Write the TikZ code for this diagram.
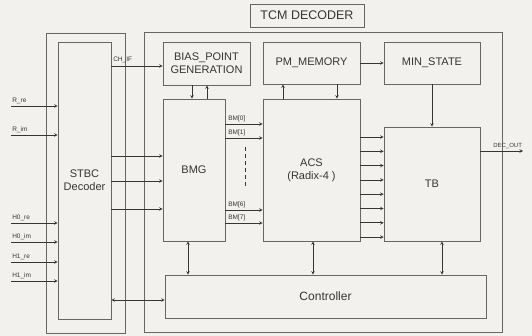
\documentclass[tikz,border=0pt]{standalone}
\usepackage{fontspec}
\setmainfont{Liberation Sans}
\usepackage{tikz}
\usetikzlibrary{positioning, arrows.meta}

\definecolor{paper}{HTML}{F2F1ED}
\definecolor{edge}{HTML}{666664}
\definecolor{ink}{HTML}{353535}

\begin{document}
\begin{tikzpicture}[x=1pt, y=-1pt, >=stealth, line width=0.6pt,
    blk/.style={draw=edge, fill=paper, rectangle, inner sep=0pt, text=ink,
      align=center, font=\fontsize{11}{13}\selectfont},
    sig/.style={text=ink, inner sep=1pt, font=\fontsize{6.5}{7}\selectfont},
    wire/.style={->, draw=ink}]
    \useasboundingbox[fill=paper] (0,0) rectangle (532,336);

    % frames
    \node[blk, minimum width=114pt, minimum height=23pt, font=\fontsize{12.5}{13}\selectfont] (title) at (307,15.5) {TCM DECODER};
    \node[blk, minimum width=79pt, minimum height=300pt] (left) at (85.5,183) {};
    \node[blk, minimum width=358pt, minimum height=300pt] (right) at (323,182) {};

    % blocks
    \node[blk, minimum width=53pt, minimum height=277pt] (stbc) at (84.5,180.5) {STBC\\Decoder};
    \node[blk, minimum width=87pt, minimum height=43pt] (bias) at (206.5,63.5) {BIAS\_POINT\\GENERATION};
    \node[blk, minimum width=97pt, minimum height=42pt] (pm) at (311.5,63) {PM\_MEMORY};
    \node[blk, minimum width=96pt, minimum height=42pt] (minst) at (432,63) {MIN\_STATE};
    \node[blk, minimum width=62pt, minimum height=142pt] (bmg) at (194,170) {BMG};
    \node[blk, minimum width=97pt, minimum height=142pt] (acs) at (311.5,170) {ACS\\(Radix-4 )};
    \node[blk, minimum width=96pt, minimum height=114pt] (tb) at (432,184) {TB};
    \node[blk, minimum width=321pt, minimum height=43pt, font=\fontsize{12}{13}\selectfont] (ctrl) at (325.5,296.5) {Controller};

    % inputs
    \foreach \lab/\y in {R\_re/106, R\_im/135, H0\_re/223, H0\_im/242, H1\_re/262, H1\_im/281} {
      \coordinate (in\y) at (11,\y);
      \draw[wire] (in\y) -- (in\y -| stbc.west);
      \node[sig, anchor=south west] (l\y) at ([yshift=1pt]in\y) {\lab};
    }

    % stbc outputs
    \draw[wire] (stbc.east |- 0,66) -- (bias.west |- 0,66);
    \node[sig, anchor=south west] (chif) at (112,64) {CH\_IF};
    \foreach \y in {156,181,209}
      \draw[wire] (stbc.east |- 0,\y) -- (bmg.west |- 0,\y);
    \draw[<->, draw=ink] (stbc.east |- 0,300) -- (ctrl.west |- 0,300);

    % bias / bmg
    \draw[wire] (bias.south -| 192,0) -- (bmg.north -| 192,0);
    \draw[wire] (bmg.north -| 207,0) -- (bias.south -| 207,0);

    % branch metrics
    \foreach \i/\y in {0/124, 1/138, 6/210, 7/223} {
      \draw[wire] (bmg.east |- 0,\y) -- (acs.west |- 0,\y);
      \node[sig, anchor=south west] (bm\i) at (227,\y-1) {BM[\i]};
    }
    \draw[ink, line width=0.9pt, dash pattern=on 4pt off 3pt] (245,147) -- (245,188);

    % acs / pm / min / tb
    \draw[wire] (acs.north -| 283,0) -- (pm.south -| 283,0);
    \draw[wire] (pm.south -| 337,0) -- (acs.north -| 337,0);
    \draw[wire] (pm.east) -- (minst.west);
    \draw[wire] (minst.south) -- (tb.north);
    \foreach \i in {0,...,7}
      \draw[wire] (acs.east |- 0,137+14.3*\i) -- (tb.west |- 0,137+14.3*\i);

    % output
    \coordinate (dout) at (523,151);
    \draw[wire] (tb.east |- dout) -- (dout);
    \node[sig, anchor=south west, font=\fontsize{6}{6}\selectfont] (doutl) at (492,150) {DEC\_OUT};

    % controller links
    \foreach \x in {188,313,442}
      \draw[<->, draw=ink] (bmg.south -| \x,0) -- (ctrl.north -| \x,0);
\end{tikzpicture}
\end{document}
